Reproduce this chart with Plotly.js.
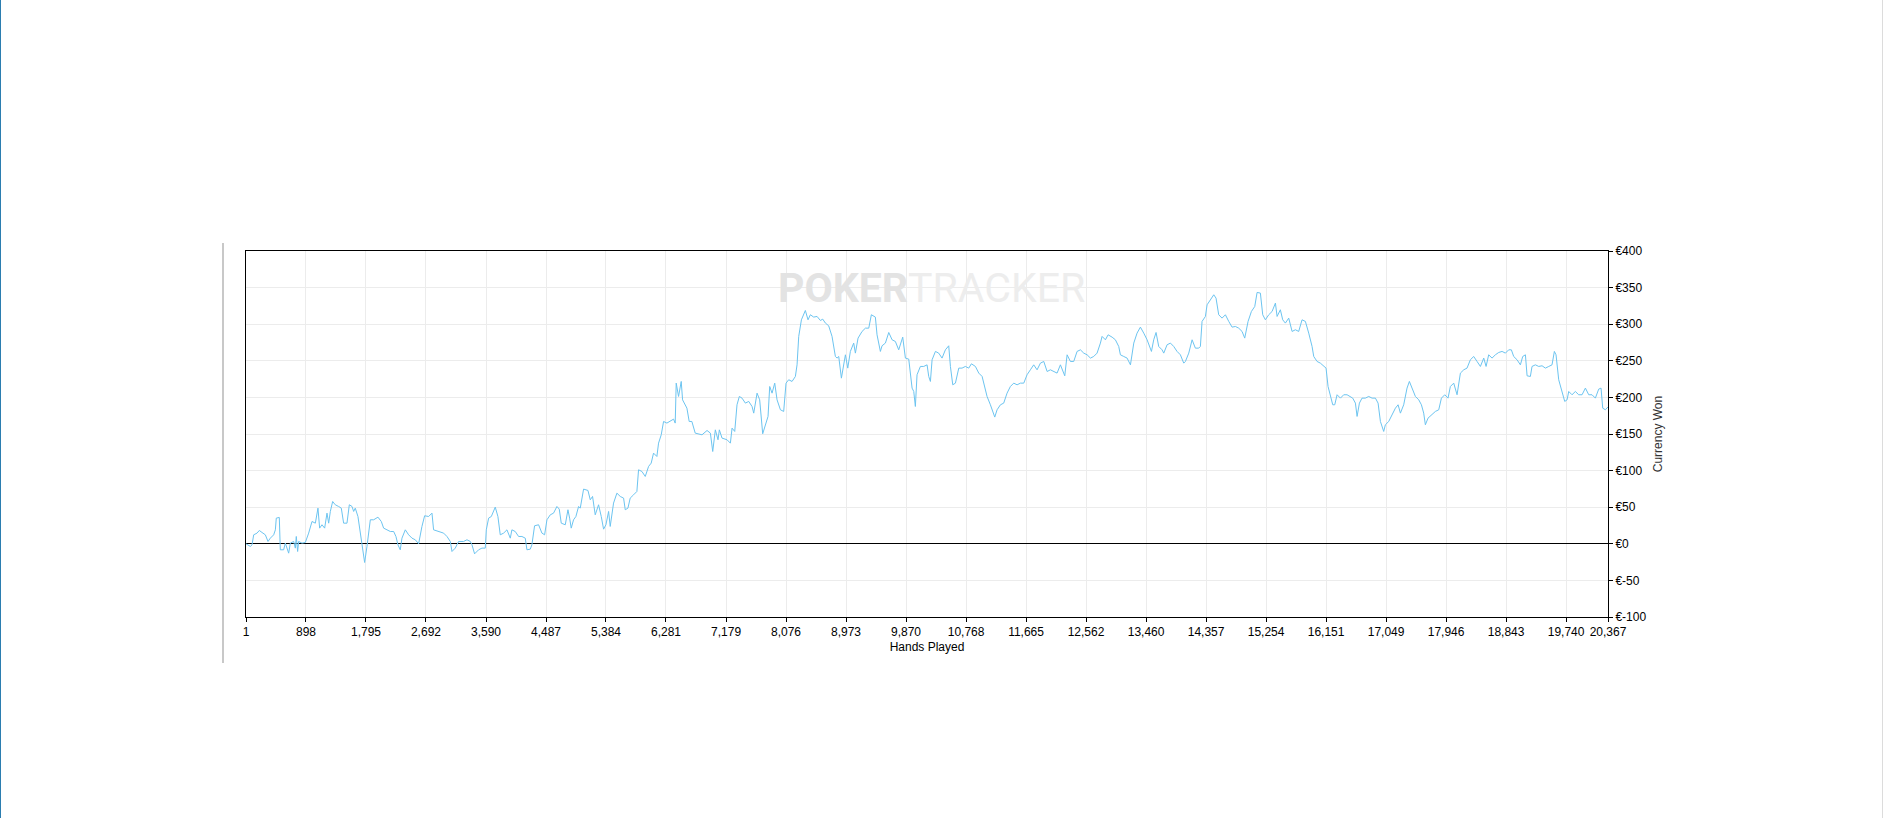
<!DOCTYPE html>
<html>
<head>
<meta charset="utf-8">
<script src="https://cdn.plot.ly/plotly-3.0.1.min.js"></script>
<style>
html,body{margin:0;padding:0;background:#fff;}
#chart{width:1883px;height:818px;}
</style>
</head>
<body>
<div id="chart"></div>
<script>
// Hands played (x) and cumulative currency won in € (y)
const hands = [1,66,91,116,166,200,240,290,330,365,415,440,454,499,514,564,589,639,664,714,
739,753,773,788,838,888,938,988,1038,1077,1102,1137,1177,1212,1237,1262,1297,1336,1386,1426,
1461,1511,1546,1586,1611,1635,1675,1695,1735,1775,1810,1860,1910,1974,2024,2059,2109,2159,2209,2243,
2273,2308,2333,2383,2433,2483,2532,2582,2632,2672,2732,2782,2806,2881,2956,3006,3056,3081,3130,3180,
3255,3305,3355,3380,3419,3479,3529,3579,3594,3629,3669,3728,3768,3803,3853,3903,3953,3977,4027,4077,
4127,4177,4202,4252,4276,4316,4376,4426,4466,4501,4551,4600,4650,4685,4715,4775,4815,4840,4864,4899,
4934,4974,4999,5049,5114,5149,5183,5223,5273,5313,5348,5383,5423,5447,5497,5547,5597,5647,5672,5712,
5746,5796,5846,5871,5921,5971,6021,6060,6095,6145,6170,6210,6245,6295,6344,6394,6419,6434,6469,6509,
6529,6594,6628,6668,6718,
6820,6895,6945,6980,7019,7059,7079,7119,7194,7244,7269,7309,7343,7378,7418,7468,7518,7568,7593,7643,
7682,7727,7767,7807,7832,7867,7907,7942,7992,8041,8076,8116,8166,8216,8241,8266,8306,8341,8365,8405,
8440,8490,8540,8590,8625,8665,8714,8764,8814,8839,8864,8904,8964,8999,9038,9088,9113,9153,9213,9263,
9313,9352,9412,9437,9487,9512,9562,9612,9662,9711,9761,9821,9861,9911,9961,9986,10010,10035,10085,10135,
10185,10210,10235,10260,10310,10359,10409,10459,10509,10534,10569,10609,10659,10708,10758,10808,10848,10908,10958,11008,
11047,11082,11132,11157,11197,11232,11282,11331,11381,11431,11481,11531,11581,11631,11680,11730,11780,11830,11880,11930,
11980,12029,12079,12129,12179,12244,12279,12328,12378,12428,12478,12528,12578,12628,12677,12727,12777,12802,12852,12892,
12952,13001,13051,13076,13126,13176,13226,13276,13325,13375,13425,13475,
13540,13574,13609,13649,13699,13724,13774,13824,13873,13923,13973,14023,14048,14098,14148,14197,14247,14272,14297,14347,
14372,14422,14472,14506,14546,14596,14646,14696,14746,14796,14845,14895,14935,14985,15035,15085,15120,15169,15204,15244,
15294,15344,15394,15419,15468,15503,15543,15593,15643,15693,15742,15792,15842,15892,15942,15967,16017,16066,16116,16151,
16181,16216,16251,16281,16316,16366,16415,16465,16515,16550,16590,16615,16650,16689,16739,16789,16839,16889,16929,16964,
17013,17038,17088,17138,17188,17228,17263,17312,17337,17362,17397,17437,17487,17537,17577,17611,17636,17676,17736,17786,
17836,17876,17926,17975,18010,18060,18110,18160,18210,18259,18309,18359,18409,18459,18509,18544,18583,18633,18683,18733,
18783,18833,18882,18922,18957,19007,19057,19092,19132,19157,19206,19231,19281,19331,19381,19431,19481,19530,19565,19590,
19630,19680,19720,19755,19780,19829,19879,19929,19979,20029,20079,20128,20178,20228,20263,20288,20328,20367];

const won = [0,-3.6,-1.4,12.3,14.6,18.2,15.5,12.3,3.2,7.7,12.3,19.1,35.1,36.0,-8.2,-8.2,0.9,-12.8,0.9,3.2,
-5.9,10.0,-10.5,3.2,0.9,1.8,14.6,30.5,28.2,48.7,21.4,26.0,21.4,41.9,28.2,44.2,57.8,53.3,51.0,48.7,
28.2,28.2,53.3,51.0,44.2,48.7,37.3,23.7,0.9,-25.5,-3.6,32.8,32.8,36.4,30.5,21.4,19.1,16.8,16.8,10.0,
-1.4,-8.2,7.7,19.1,12.3,7.7,5.5,0,23.7,38.3,37.3,41.9,19.1,16.8,14.6,10.0,3.2,-10.5,-5.9,3.2,
3.2,5.5,3.2,-1.4,-13.7,-8.2,-5.9,-5.9,19.1,35.1,37.3,50.1,37.3,12.3,14.6,19.1,7.7,19.1,16.8,10.0,
10.0,7.7,-8.2,-7.3,-1.4,24.6,26.0,14.6,12.3,32.8,39.6,41.9,51.0,47.4,28.2,26.0,46.5,35.1,21.4,32.8,
37.3,51.0,48.7,74.7,72.9,60.1,64.7,39.6,53.3,37.3,20.0,26.0,44.2,23.7,55.6,69.2,64.7,62.4,46.5,48.7,
62.4,66.9,71.5,101.1,98.8,92.0,105.7,110.2,123.9,119.3,137.5,148.9,167.1,164.9,167.1,170.3,164.9,219.5,201.3,221.8,
196.7,185.3,167.1,167.1,151.2,
148.9,154.8,151.2,126.1,155.7,142.1,155.7,144.4,142.1,137.5,158.0,153.5,189.9,201.3,199.0,192.2,194.5,187.6,178.5,205.8,
196.7,150.3,162.6,174.0,214.9,205.8,219.5,196.7,183.1,180.8,219.5,224.1,221.8,228.6,244.5,283.3,306.0,312.9,318.8,306.0,
312.9,309.7,310.6,305.1,306.9,301.5,297.8,283.3,255.9,253.7,255.9,226.3,258.2,240.0,262.8,274.2,260.5,281.0,290.1,294.6,
294.6,312.9,309.7,285.5,262.8,270.5,274.2,288.7,278.7,276.4,265.0,282.3,253.7,252.3,212.7,208.1,187.6,230.9,242.3,242.3,
244.5,228.6,221.8,251.4,262.8,260.5,253.7,265.0,270.5,242.3,217.2,219.5,240.0,240.0,242.3,240.0,245.9,242.3,233.2,228.6,
214.9,201.3,189.9,183.1,173.1,183.1,189.9,192.2,205.8,214.9,219.5,217.2,219.5,219.5,230.9,237.7,244.5,237.7,246.8,249.1,
235.4,237.7,235.4,233.2,244.5,229.5,258.2,249.1,249.1,262.8,265.0,260.5,258.2,253.7,255.9,260.5,274.2,283.3,278.7,285.5,
282.3,278.7,269.6,258.2,255.9,253.7,244.5,274.2,287.8,296.0,287.8,278.7,
262.8,278.7,288.7,269.6,265.0,260.5,271.9,274.2,269.6,262.8,258.2,246.8,249.1,260.5,278.7,267.3,267.3,269.6,303.8,310.6,
326.5,333.4,340.2,335.6,312.9,308.3,312.9,303.8,296.0,296.9,294.6,290.1,281.0,303.8,317.4,324.2,343.4,342.5,312.9,306.0,
312.9,317.4,328.8,310.6,319.7,306.0,301.5,308.3,290.1,292.4,290.1,306.0,303.8,287.8,269.6,255.9,249.1,246.8,242.3,240.0,
214.9,203.6,189.9,189.9,203.6,199.0,203.6,203.6,201.3,199.0,192.2,174.0,192.2,199.0,199.0,201.3,199.0,199.0,192.2,167.1,
153.5,162.6,167.1,176.2,185.3,189.9,178.5,189.9,201.3,212.7,221.8,212.7,201.3,196.7,189.9,178.5,162.6,171.7,176.2,180.8,
183.1,199.0,203.6,199.0,214.9,219.5,203.6,233.2,237.7,240.0,251.4,255.9,249.1,242.3,253.7,242.3,258.2,253.7,258.2,261.4,
262.8,260.5,265.0,265.0,255.9,251.4,244.5,255.9,258.2,229.5,228.6,242.3,244.5,242.3,243.2,240.0,242.3,244.5,262.8,258.2,
224.1,208.1,194.5,196.7,208.1,203.6,208.1,203.6,203.6,212.7,203.6,203.6,199.0,211.3,212.7,185.3,183.1,187.0];

const xTickVals = [1,898,1795,2692,3590,4487,5384,6281,7179,8076,8973,9870,10768,11665,12562,13460,14357,15254,16151,17049,17946,18843,19740,20367];
const yTickVals = [-100,-50,0,50,100,150,200,250,300,350,400];
const yTickText = ['€-100','€-50','€0','€50','€100','€150','€200','€250','€300','€350','€400'];
const xTitle = 'Hands Played';
const yTitle = 'Currency Won';
const watermarkBold = 'POKER';
const watermarkLight = 'TRACKER';

const W = 1883, H = 818;
const L = 246, R = 275, T = 251, B = 201;
const pw = W - L - R, ph = H - T - B;
function px(x){ return (x - L) / pw; }
function py(y){ return (H - B - y) / ph; }

const font = {family: 'Liberation Sans, Arial, sans-serif', size: 12, color: '#000'};

const trace = {
  x: hands, y: won, type: 'scatter', mode: 'lines',
  line: {color: '#6cc4f0', width: 1},
  hoverinfo: 'skip', showlegend: false
};

const layout = {
  width: W, height: H,
  margin: {l: L, r: R, t: T, b: B, pad: 0},
  paper_bgcolor: '#fff', plot_bgcolor: '#fff',
  font: font,
  showlegend: false,
  xaxis: {
    range: [1, 20367], tickmode: 'array', tickvals: xTickVals, tickformat: ',d',
    showline: true, linecolor: '#000', linewidth: 1, mirror: true,
    ticks: 'outside', ticklen: 4, tickcolor: '#000', tickwidth: 1,
    showgrid: true, gridcolor: '#ececec', gridwidth: 1, zeroline: false,
    tickfont: font,
    title: {text: xTitle, font: font, standoff: 4},
    automargin: false, fixedrange: true
  },
  yaxis: {
    side: 'right', range: [-100, 400], tickmode: 'array', tickvals: yTickVals, ticktext: yTickText,
    showline: true, linecolor: '#000', linewidth: 1, mirror: true,
    ticks: 'outside', ticklen: 4, tickcolor: '#000', tickwidth: 1,
    showgrid: true, gridcolor: '#ececec', gridwidth: 1,
    zeroline: true, zerolinecolor: '#000', zerolinewidth: 1,
    tickfont: font,
    title: {text: yTitle, font: {family: font.family, size: 12, color: '#333'}, standoff: 8},
    automargin: false, fixedrange: true
  },
  annotations: [{
    xref: 'paper', yref: 'paper', x: px(931), y: py(287.5), xanchor: 'center', yanchor: 'middle',
    text: '<b><span style="color:#e3e3e3">' + watermarkBold + '</span></b><span style="color:#ededed">' + watermarkLight + '</span>',
    showarrow: false,
    font: {family: 'Roboto, Arial, sans-serif', size: 41, color: '#e8e8e8'}
  }],
  shapes: [
    {type: 'line', xref: 'paper', yref: 'paper', x0: px(0.5), x1: px(0.5), y0: py(0), y1: py(818), line: {color: '#2b7db0', width: 1}},
    {type: 'line', xref: 'paper', yref: 'paper', x0: px(223), x1: px(223), y0: py(243), y1: py(663), line: {color: '#c8c8c8', width: 2}},
    {type: 'line', xref: 'paper', yref: 'paper', x0: px(1882.5), x1: px(1882.5), y0: py(0), y1: py(818), line: {color: '#dcdcdc', width: 1}}
  ]
};

Plotly.newPlot('chart', [trace], layout, {displayModeBar: false, staticPlot: true});
</script>
</body>
</html>
